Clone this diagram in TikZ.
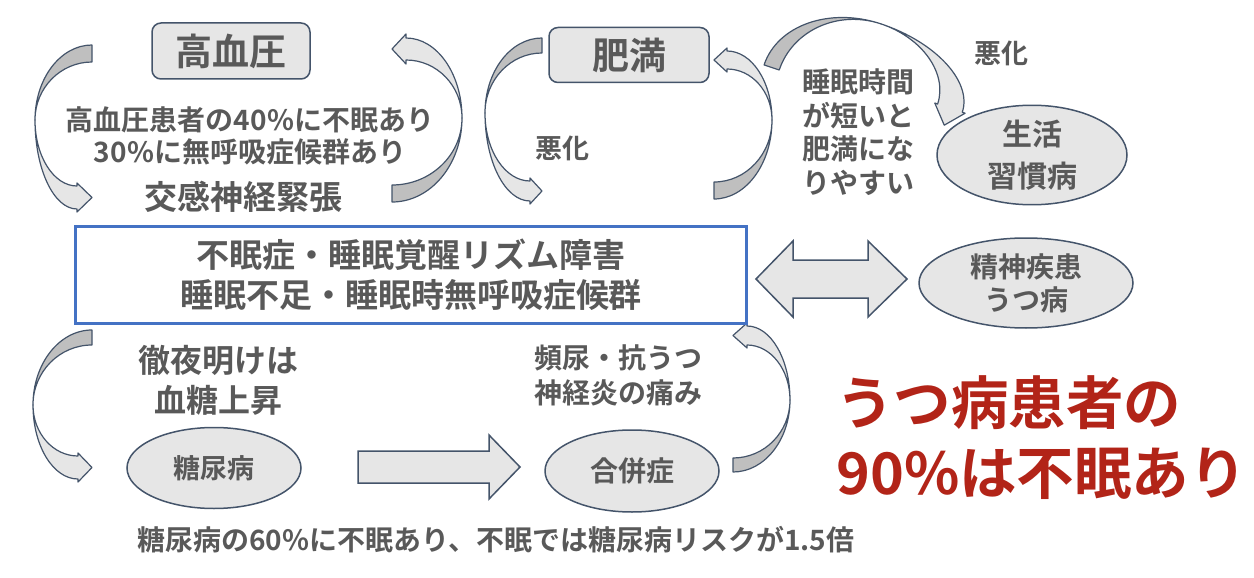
\documentclass[tikz,border=0pt]{standalone}
\usepackage{fontspec}
\setmainfont{Noto Sans CJK JP}[BoldFont={Noto Sans CJK JP Bold}]
\usetikzlibrary{shapes.geometric}
\definecolor{txt}{HTML}{595959}
\definecolor{edgec}{HTML}{44546A}
\definecolor{lgray}{HTML}{E6E6E6}
\definecolor{dgray}{HTML}{BFBFBF}
\definecolor{boxblue}{HTML}{4472C4}
\definecolor{redtxt}{HTML}{B22418}
\newcommand\fsz[2]{\fontsize{#1}{#2}\selectfont\bfseries}
% curved block arrow: #1 scope opts, #2 r, #3 H, #4 w, #5 h, #6 Ho, #7 Hi, #8 b
\newcommand\carrow[8]{%
\begin{scope}[#1]
 \filldraw[arrdark] (0,-#3) .. controls ({-0.5523*#2},-#3) and (-#2,{-0.5523*#3}) .. (-#2,0)
   .. controls (-#2,{-0.5523*(#3-#4)}) and ({-0.5523*#2},{-(#3-#4)}) .. (0,{-(#3-#4)}) -- cycle;
 \filldraw[arrlight] (-#2,0) .. controls (-#2,{0.5523*#6}) and ({-#5-0.5523*(#2-#5)},#6) .. (-#5,#6)
   -- (-#5,{#6+#8}) -- (0,{(#6+#7)/2}) -- (-#5,{#7-#8}) -- (-#5,#7)
   .. controls ({-#5-0.5523*(#2-#5)},#7) and (-#2,{0.5523*#7}) .. (-#2,0) -- cycle;
\end{scope}}
\begin{document}
\begin{tikzpicture}[x=1pt,y=-1pt,
  arrdark/.style={fill=dgray,draw=edgec,line width=1.2pt,line join=round},
  arrlight/.style={fill=lgray,draw=edgec,line width=1.2pt,line join=round},
  lbl/.style={text=txt,align=center,inner sep=0pt},
  rbox/.style={draw=edgec,fill=lgray,line width=1.5pt,rounded corners=9pt,text=txt,inner sep=0pt},
  ell/.style={ellipse,draw=edgec,fill=lgray,line width=1.5pt,text=txt,inner sep=0pt,align=center},
  mainbox/.style={draw=boxblue,line width=3pt,fill=white,text=txt,align=center,inner sep=0pt},
  blockarr/.style={fill=lgray,draw=edgec,line width=1.5pt,line join=miter}]
\useasboundingbox (0,0) rectangle (1254,578);

% curved arrows
\carrow{shift={(92,120)}}{57}{75}{17}{15}{89}{66}{3}
\carrow{shift={(392,118)},rotate=180}{70}{84}{17}{14}{80}{58}{4}
\carrow{shift={(542,113)}}{57}{75}{15}{12}{88}{68}{3}
\carrow{shift={(714,120)},rotate=180}{58}{79}{17}{13}{69}{51}{3}
\carrow{shift={(857,96)},rotate=71.5,xscale=-1}{76}{98}{16}{18}{105}{79}{3}
\carrow{shift={(733,400)},rotate=180}{57}{72}{14}{14}{74}{55}{3}
\carrow{shift={(92,405)}}{59}{75}{15}{14}{74}{51}{3}

% nodes
\node[rbox,minimum width=158pt,minimum height=56pt,font={\fsz{37}{40}}] (hbp) at (231,51) {高血圧};
\node[rbox,minimum width=160pt,minimum height=55pt,font={\fsz{37}{40}}] (obs) at (629,55) {肥満};
\node[mainbox,minimum width=671pt,minimum height=97pt,font={\fsz{33}{40}}] (core) at (411,275)
  {不眠症・睡眠覚醒リズム障害\\睡眠不足・睡眠時無呼吸症候群};
\node[ell,minimum width=190pt,minimum height=98pt,font={\fsz{30}{42}}] (life) at (1032,155) {生活\\習慣病};
\node[ell,minimum width=214pt,minimum height=90pt,font={\fsz{28}{33}}] (dep) at (1026,283) {精神疾患\\うつ病};
\node[ell,minimum width=174pt,minimum height=81pt,font={\fsz{27}{30}}] (dm) at (214,468) {糖尿病};
\node[ell,minimum width=174pt,minimum height=82pt,font={\fsz{28}{30}}] (comp) at (632,471) {合併症};

% labels
\node[lbl,font={\fsz{28}{32}}] (t1) at (250,136) {高血圧患者の40\%に不眠あり\\30\%に無呼吸症候群あり};
\node[lbl,font={\fsz{33}{32}}] (t2) at (243,197) {交感神経緊張};
\node[lbl,font={\fsz{27}{30}}] (t3) at (562,148) {悪化};
\node[lbl,font={\fsz{27}{30}}] (t4) at (1001,53) {悪化};
\node[lbl,font={\fsz{28}{33.7}}] (t5) at (858,132) {睡眠時間\\が短いと\\肥満にな\\りやすい};
\node[lbl,font={\fsz{32}{40}}] (t6) at (218,380) {徹夜明けは\\血糖上昇};
\node[lbl,font={\fsz{28}{35}}] (t7) at (618,375) {頻尿・抗うつ\\神経炎の痛み};
\node[lbl,anchor=west,font={\fsz{28}{30}}] (t8) at (137,540) {糖尿病の60\%に不眠あり、不眠では糖尿病リスクが1.5倍};
\node[lbl,anchor=west,align=left,text=redtxt,font={\fsz{57.5}{70}}] (t9) at (836,438) {うつ病患者の\\90\%は不眠あり};

% straight block arrow
\filldraw[blockarr] (358,451) -- (489,451) -- (489,435) -- (520,467) -- (489,499) -- (489,483) -- (358,483) -- cycle;
% double arrow
\filldraw[blockarr] (756,279) -- (793,241) -- (793,260) -- (868,260) -- (868,241) -- (907,279)
  -- (868,317) -- (868,298) -- (793,298) -- (793,317) -- cycle;
\end{tikzpicture}
\end{document}
